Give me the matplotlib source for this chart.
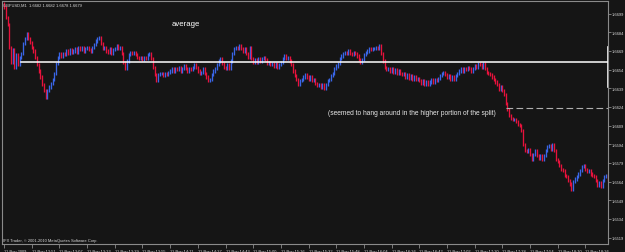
import matplotlib
matplotlib.use("Agg")
import matplotlib.pyplot as plt
import numpy as np

# close prices, in pips above 1.6500, one per 1-minute bar
close_pips = [
    204, 196, 190, 172, 160, 170, 156, 166, 158, 164,
    167, 175, 179, 183, 179, 176, 172, 169, 164, 158,
    153, 148, 142, 137, 132, 137, 140, 143, 146, 151,
    159, 164, 167, 165, 167, 166, 169, 167, 170, 168,
    169, 171, 168, 172, 170, 172, 169, 171, 172, 170,
    169, 172, 174, 177, 179, 180, 175, 171, 172, 169,
    168, 171, 167, 170, 171, 173, 171, 172, 167, 160,
    155, 161, 166, 168, 167, 168, 166, 164, 163, 164,
    162, 164, 163, 166, 167, 163, 156, 150, 145, 150,
    151, 151, 149, 151, 150, 152, 153, 155, 153, 155,
    154, 156, 153, 155, 157, 155, 153, 155, 154, 156,
    158, 156, 153, 151, 152, 155, 151, 148, 145, 146,
    150, 153, 155, 158, 161, 163, 159, 156, 155, 158,
    155, 161, 167, 171, 172, 171, 173, 171, 169, 171,
    167, 164, 172, 163, 160, 162, 160, 163, 161, 163,
    164, 162, 159, 160, 158, 159, 157, 159, 156, 158,
    160, 163, 165, 163, 164, 161, 158, 153, 149, 146,
    142, 145, 146, 148, 150, 148, 146, 148, 145, 146,
    143, 141, 142, 140, 142, 139, 142, 145, 146, 149,
    151, 155, 157, 159, 163, 165, 167, 168, 167, 169,
    167, 166, 168, 167, 165, 162, 160, 162, 166, 168,
    169, 171, 170, 171, 171, 172, 171, 173, 167, 161,
    156, 154, 155, 153, 155, 152, 154, 151, 153, 151,
    150, 151, 148, 150, 147, 149, 146, 148, 146, 147,
    145, 143, 145, 142, 144, 142, 144, 146, 144, 146,
    145, 147, 149, 151, 152, 150, 148, 149, 146, 148,
    146, 149, 151, 153, 155, 153, 155, 154, 156, 155,
    153, 155, 157, 156, 159, 158, 156, 159, 155, 152,
    151, 150, 148, 146, 144, 142, 138, 140, 137, 134,
    127, 122, 117, 115, 114, 114, 112, 110, 109, 105,
    94, 89, 88, 90, 86, 82, 86, 89, 85, 83,
    85, 82, 85, 89, 92, 93, 90, 94, 89, 82,
    80, 77, 74, 73, 69, 68, 65, 62, 58, 64,
    66, 68, 70, 73, 76, 77, 74, 72, 73, 70,
    69, 68, 65, 61, 63, 60, 65, 68, 69, 66,
]
first_open_pips = 207

price_ticks = [1.6519, 1.6534, 1.6549, 1.6564, 1.6579, 1.6594, 1.6609,
               1.6624, 1.6639, 1.6654, 1.6669, 1.6684, 1.6699]
time_labels = ["11 Nov 2009", "11 Nov 12:51", "11 Nov 13:07", "11 Nov 13:23",
               "11 Nov 13:39", "11 Nov 13:55", "11 Nov 14:11", "11 Nov 14:27",
               "11 Nov 14:43", "11 Nov 15:00", "11 Nov 15:16", "11 Nov 15:32",
               "11 Nov 15:48", "11 Nov 16:04", "11 Nov 16:26", "11 Nov 16:42",
               "11 Nov 17:02", "11 Nov 17:20", "11 Nov 17:38", "11 Nov 17:54",
               "11 Nov 18:10", "11 Nov 18:26"]
average_level = 1.6660
split_level = 1.6623

bg = "#151515"
up_col = "#3a66e8"
down_col = "#e8123c"
txt = "#dadada"
small = dict(family="Liberation Sans", fontsize=2.9)

closes = 1.65 + np.array(close_pips) / 10000
opens = np.r_[1.65 + first_open_pips / 10000, closes[:-1]]
n = len(closes)
x = np.arange(n)
pad = 0.00013
lo = np.minimum(opens, closes) - pad
hi = np.maximum(opens, closes) + pad
cols = [up_col if c >= o else down_col for o, c in zip(opens, closes)]

fig = plt.figure(figsize=(6.25, 2.53), dpi=100, facecolor=bg)
ax = fig.add_axes([2/625, 8/253, 606/625, 243/253], facecolor=bg)
ax.vlines(x, lo, hi, colors=cols, linewidth=0.95)

ax.set_xlim(-1.2, n - 0.9)
ax.set_ylim(1.65138, 1.67092)

# average line and the split level
ax.plot([9.8, n], [average_level, average_level], color="white", lw=1.1)
ax.plot([290, n], [split_level, split_level], color="#b0b0b0", lw=0.8,
        dashes=(6, 3))
ax.plot([n - 0.9, n - 0.9], [1.6640, 1.66722], color="white", lw=1.2,
        clip_on=False)

ax.text(105, 1.6691, "average", color="white", fontsize=5.6,
        family="Liberation Sans", ha="center", va="center")
ax.text(187, 1.66197, "(seemed to hang around in the higher portion of the split)",
        color="#e8e8e8", fontsize=4.8, family="Liberation Sans",
        ha="left", va="center")
ax.text(0.002, 0.992, "GBPUSD,M1  1.6682 1.6682 1.6678 1.6679", color=txt,
        transform=ax.transAxes, ha="left", va="top", **small)
ax.text(0.002, 0.008, "IFX Trader, \u00a9 2001-2010 MetaQuotes Software Corp.",
        color=txt, transform=ax.transAxes, ha="left", va="bottom", **small)

for s in ax.spines.values():
    s.set_color("#8a8a8a")
    s.set_linewidth(0.8)

ax.yaxis.tick_right()
ax.set_yticks(price_ticks)
ax.set_yticklabels([f"{p:.4f}" for p in price_ticks], **small)
ax.tick_params(axis="y", colors="#8a8a8a", labelcolor=txt,
               length=2, width=0.6, pad=1.0)

ax.set_xticks(np.arange(len(time_labels)) * 16)
ax.set_xticklabels(time_labels, **small)
ax.tick_params(axis="x", colors="#8a8a8a", labelcolor=txt,
               length=3, width=0.6, pad=0.5)
for lab in ax.get_xticklabels():
    lab.set_horizontalalignment("left")

fig.savefig("out.png", dpi=100, facecolor=bg)
